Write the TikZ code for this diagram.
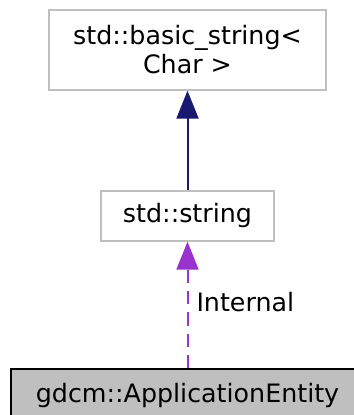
\documentclass[tikz,border=0pt]{standalone}
\usepackage{fontspec}
\setmainfont{DejaVu Sans}
\usetikzlibrary{positioning}
\usetikzlibrary{arrows.meta}
\definecolor{edgegray}{HTML}{BFBFBF}
\definecolor{inheritblue}{HTML}{191970}
\definecolor{usageorchid}{HTML}{9A32CD}
\begin{document}
\begin{tikzpicture}[x=0.75pt,y=-0.75pt]
\pgfmathsetmacro{\XC}{187.5}
\pgfmathsetmacro{\YTOP}{50}
\pgfmathsetmacro{\YMID}{216}
\pgfmathsetmacro{\YBOT}{396}

\tikzset{
  cls/.style={draw=edgegray, line width=1pt, rectangle, align=center,
  inner sep=0pt, font=\fontsize{19}{21.75}\selectfont},
  focus/.style={cls, draw=black, fill=edgegray},
  inherit/.style={-{Triangle[length=21pt,width=16.5pt]}, line width=1.5pt, color=inheritblue},
  usage/.style={-{Triangle[length=21pt,width=16.5pt]}, line width=1.5pt, color=usageorchid,
  dash pattern=on 10pt off 6pt},
}

\useasboundingbox (0,0) rectangle (354,415);

\node[cls, minimum width=207.75pt, minimum height=60pt] (basestr) at (\XC, \YTOP) {std::basic\_string<\\Char >};
\node[cls, minimum width=129.75pt, minimum height=37.5pt] (str) at (\XC, \YMID) {std::string};
\node[focus, minimum width=264.75pt, minimum height=40.5pt] (appent) at (\XC, \YBOT) {gdcm::ApplicationEntity};

\draw[inherit] (str) -- (basestr);
\draw[usage] (appent) -- node[right, pos=0.52, inner sep=6pt, text=black, font=\fontsize{19}{21.75}\selectfont] {Internal} (str);
\end{tikzpicture}
\end{document}
